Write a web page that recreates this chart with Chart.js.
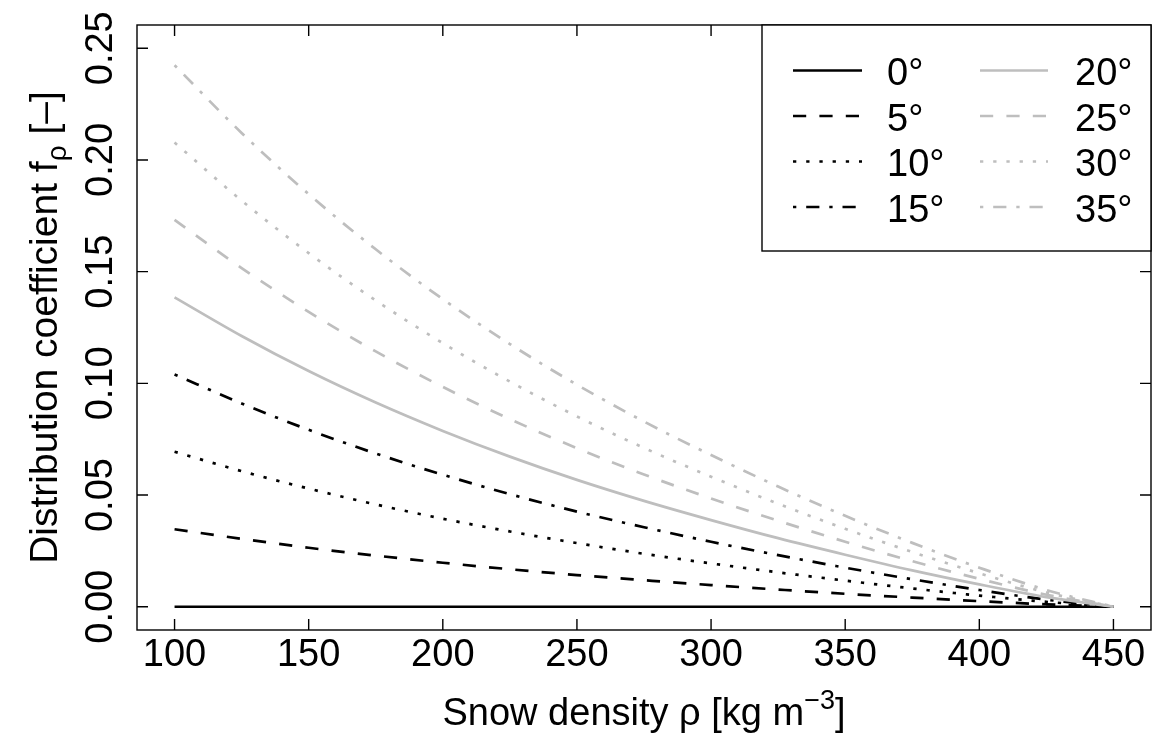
<!DOCTYPE html>
<html><head><meta charset="utf-8">
<script src="https://cdn.jsdelivr.net/npm/chart.js@4.4.1/dist/chart.umd.min.js"></script>
<style>html,body{margin:0;padding:0;background:#fff;}canvas{display:block;}</style>
</head><body>
<canvas id="c" width="1152" height="734"></canvas>
<script>
// ---- data ----
const density = [100,125,150,175,200,225,250,275,300,325,350,375,400,425,450];
const angleLabels = ['0°','5°','10°','15°','20°','25°','30°','35°'];
const f0  = [0,0,0,0,0,0,0,0,0,0,0,0,0,0,0];
const f5  = [0.0347,0.0304,0.0264,0.0229,0.0197,0.0168,0.0142,0.0119,0.0097,0.0077,0.0058,0.0041,0.0025,0.0011,0];
const f10 = [0.0694,0.0607,0.0529,0.0458,0.0394,0.0337,0.0285,0.0237,0.0194,0.0154,0.0117,0.0082,0.0050,0.0022,0];
const f15 = [0.1040,0.0910,0.0792,0.0686,0.0591,0.0504,0.0426,0.0356,0.0291,0.0231,0.0175,0.0123,0.0075,0.0032,0];
const f20 = [0.1385,0.1212,0.1055,0.0914,0.0787,0.0672,0.0568,0.0474,0.0388,0.0307,0.0233,0.0163,0.0100,0.0043,0];
const f25 = [0.1732,0.1516,0.1320,0.1143,0.0984,0.0840,0.0710,0.0592,0.0485,0.0385,0.0291,0.0204,0.0125,0.0054,0];
const f30 = [0.2078,0.1818,0.1583,0.1371,0.1180,0.1008,0.0852,0.0711,0.0582,0.0461,0.0349,0.0245,0.0150,0.0064,0];
const f35 = [0.2424,0.2121,0.1847,0.1600,0.1377,0.1176,0.0994,0.0829,0.0679,0.0538,0.0407,0.0286,0.0175,0.0075,0];
const xTicks = [100,150,200,250,300,350,400,450];
const xTickLabels = ['100','150','200','250','300','350','400','450'];
const yTicks = [0,0.05,0.10,0.15,0.20,0.25];
const yTickLabels = ['0.00','0.05','0.10','0.15','0.20','0.25'];

// ---- styles ----
const FONT = '"Liberation Sans", Arial, Helvetica, sans-serif';
const FS = 38;
const FS_YT = 39;
const BLACK = '#000000', GREY = '#bebebe';
const LW = 2.7;
const solid = [], dashed = [13.2,13.2], dotted = [3.3,9.9], dotdash = [3.3,9.9,13.2,9.9];
const seriesValues = [f0,f5,f10,f15,f20,f25,f30,f35];
const seriesColors = [BLACK,BLACK,BLACK,BLACK,GREY,GREY,GREY,GREY];
const seriesDash = [solid,dashed,dotted,dotdash,solid,dashed,dotted,dotdash];

const datasets = seriesValues.map((vals,k)=>({
  label: angleLabels[k],
  data: density.map((x,i)=>({x:x,y:vals[i]})),
  borderColor: seriesColors[k],
  borderWidth: LW,
  borderDash: seriesDash[k],
  borderCapStyle: 'butt',
  pointRadius: 0,
  fill: false,
  cubicInterpolationMode: 'monotone',
  order: 7-k
}));

const framePlugin = {
  id: 'frame',
  afterDatasetsDraw(chart){
    const ctx = chart.ctx, a = chart.chartArea;
    const xs = chart.scales.x, ys = chart.scales.y;
    ctx.save();
    ctx.setLineDash([]);
    ctx.strokeStyle = BLACK; ctx.lineWidth = 1.4;
    const TL = 11;
    ctx.beginPath();
    xTicks.forEach(v=>{
      const p = xs.getPixelForValue(v);
      ctx.moveTo(p,a.bottom); ctx.lineTo(p,a.bottom-TL);
      ctx.moveTo(p,a.top); ctx.lineTo(p,a.top+TL);
    });
    yTicks.forEach(v=>{
      const p = ys.getPixelForValue(v);
      ctx.moveTo(a.left,p); ctx.lineTo(a.left+TL,p);
      ctx.moveTo(a.right,p); ctx.lineTo(a.right-TL,p);
    });
    ctx.stroke();
    ctx.strokeRect(a.left,a.top,a.right-a.left,a.bottom-a.top);

    // legend
    const lx = 762, ly = a.top, lw = a.right-762, lh = 251-a.top;
    ctx.fillStyle = '#fff';
    ctx.fillRect(lx,ly,lw,lh);
    ctx.strokeRect(lx,ly,lw,lh);
    const baselines = [85,130.5,176,221.5];
    const cols = [{x1:793,x2:862,tx:887},{x1:980,x2:1048,tx:1075}];
    ctx.font = FS+'px '+FONT;
    ctx.textBaseline = 'alphabetic';
    ctx.textAlign = 'left';
    chart.data.datasets.forEach((ds,k)=>{
      const c = cols[Math.floor(k/4)], b = baselines[k%4];
      ctx.save();
      ctx.strokeStyle = ds.borderColor; ctx.lineWidth = LW;
      ctx.setLineDash(ds.borderDash); ctx.lineCap = 'butt';
      ctx.beginPath(); ctx.moveTo(c.x1,b-14.5); ctx.lineTo(c.x2,b-14.5); ctx.stroke();
      ctx.restore();
      ctx.fillStyle = BLACK;
      ctx.fillText(ds.label,c.tx,b);
    });
    ctx.restore();
  },
  afterDraw(chart){
    const ctx = chart.ctx, a = chart.chartArea;
    ctx.save();
    ctx.fillStyle = BLACK;
    ctx.textBaseline = 'alphabetic';
    ctx.textAlign = 'left';
    let big = FS+'px '+FONT, small = Math.round(FS*0.72)+'px '+FONT;
    // x title with superscript
    const t1 = 'Snow density ρ [kg m', sup = '−3', t2 = ']';
    ctx.font = big; const w1 = ctx.measureText(t1).width, w2 = ctx.measureText(t2).width;
    ctx.font = small; const ws = ctx.measureText(sup).width;
    let x = (a.left+a.right)/2 - (w1+ws+w2)/2; const by = 725;
    ctx.font = big; ctx.fillText(t1,x,by); x += w1;
    ctx.font = small; ctx.fillText(sup,x,by-16); x += ws;
    ctx.font = big; ctx.fillText(t2,x,by);
    // y title with subscript
    big = FS_YT+'px '+FONT; small = Math.round(FS_YT*0.72)+'px '+FONT;
    const s1 = 'Distribution coefficient f', sub = 'ρ', s2 = ' [–]';
    ctx.font = big; const v1 = ctx.measureText(s1).width, v2 = ctx.measureText(s2).width;
    ctx.font = small; const vs = ctx.measureText(sub).width;
    ctx.translate(57,(a.top+a.bottom)/2);
    ctx.rotate(-Math.PI/2);
    let u = -(v1+vs+v2)/2;
    ctx.font = big; ctx.fillText(s1,u,0); u += v1;
    ctx.font = small; ctx.fillText(sub,u,9); u += vs;
    ctx.font = big; ctx.fillText(s2,u,0);
    ctx.restore();
  }
};

Chart.defaults.font.family = FONT;
new Chart(document.getElementById('c'), {
  type: 'line',
  data: { datasets: datasets },
  options: {
    responsive: false,
    animation: false,
    devicePixelRatio: 1,
    layout: { padding: { left: 0, top: 25, right: 1, bottom: 0 } },
    plugins: { legend: { display: false }, tooltip: { enabled: false } },
    scales: {
      x: {
        type: 'linear', min: 86, max: 464,
        grid: { display: false, drawTicks: false },
        border: { display: false },
        afterBuildTicks: s => { s.ticks = xTicks.map(v=>({value:v})); },
        ticks: { callback: (v,i)=>xTickLabels[i], font:{size:FS, family:FONT}, color: BLACK,
                 padding: 3, minRotation: 0, maxRotation: 0, autoSkip: false },
        afterFit: s => { s.height = 104; s.paddingLeft = 0; s.paddingRight = 0; }
      },
      y: {
        type: 'linear', min: -0.0104, max: 0.2604,
        grid: { display: false, drawTicks: false },
        border: { display: false },
        afterBuildTicks: s => { s.ticks = yTicks.map(v=>({value:v})); },
        ticks: { callback: (v,i)=>yTickLabels[i], font:{size:FS, family:FONT}, color: BLACK,
                 minRotation: 90, maxRotation: 90, crossAlign: 'center', padding: -1, autoSkip: false },
        afterFit: s => { s.width = 137; s.paddingTop = 0; s.paddingBottom = 0; }
      }
    }
  },
  plugins: [framePlugin]
});
</script>
</body></html>
